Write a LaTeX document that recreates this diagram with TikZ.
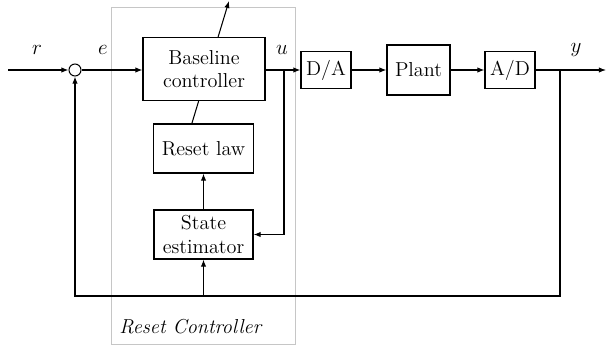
\documentclass[tikz,border=0pt]{standalone}
\usepackage{amsmath}
\usetikzlibrary{arrows.meta}
\tikzset{
  blk/.style={draw, fill=white, align=center, inner sep=0pt},
  sig/.style={-{Latex[length=4pt,width=3pt]}},
}

\begin{document}
\begin{tikzpicture}[x=0.02cm, y=-0.02cm, line width=0.6pt, font=\fontsize{11.5}{13.5}\selectfont]
        \useasboundingbox (0,0) rectangle (608,348);
        \draw[gray!45, line width=0.5pt] (111,7) rectangle (295,344);
        \node[right] at (113,327) {\textit{Reset Controller}};
        \node[draw, circle, minimum size=12*0.02cm, inner sep=0pt] (sum) at (75,70) {};
        \coordinate (in) at (8,70);
        \coordinate (out) at (606,70);
        \coordinate (ub) at (284,70);
        \coordinate (yb) at (560,70);
        \coordinate (fb) at (203.5,296);
        \draw[sig] (192,123) -- (229,1);
        \node[blk, minimum width=122*0.02cm, minimum height=63*0.02cm] (base) at (204,69) {Baseline\\controller};
        \node[blk, minimum width=100*0.02cm, minimum height=49*0.02cm] (law) at (203.5,148.5) {Reset law};
        \node[blk, minimum width=99*0.02cm, minimum height=49*0.02cm] (est) at (203.5,234.5) {State\\estimator};
        \node[blk, minimum width=50*0.02cm, minimum height=37*0.02cm] (da) at (326,70) {D/A};
        \node[blk, minimum width=63*0.02cm, minimum height=50*0.02cm] (plant) at (418.5,70) {Plant};
        \node[blk, minimum width=50*0.02cm, minimum height=37*0.02cm] (ad) at (510,70) {A/D};
        \draw[sig] (in) -- (sum);
        \draw[sig] (sum) -- (sum -| base.west);
        \draw[sig] (base.east |- da) -- (da);
        \draw[sig] (da) -- (plant);
        \draw[sig] (plant) -- (ad);
        \draw[sig] (ad) -- (out);
        \draw[sig] (ub) |- (est.east);
        \draw[sig] (yb) |- (75,296) -- (sum.south);
        \draw[sig] (fb) -- (est.south);
        \draw[sig] (est) -- (law);
        \node at (37,50) {$r$};
        \node at (103,50) {$e$};
        \node at (282,50) {$u$};
        \node at (576,50) {$y$};
    \end{tikzpicture}
\end{document}
